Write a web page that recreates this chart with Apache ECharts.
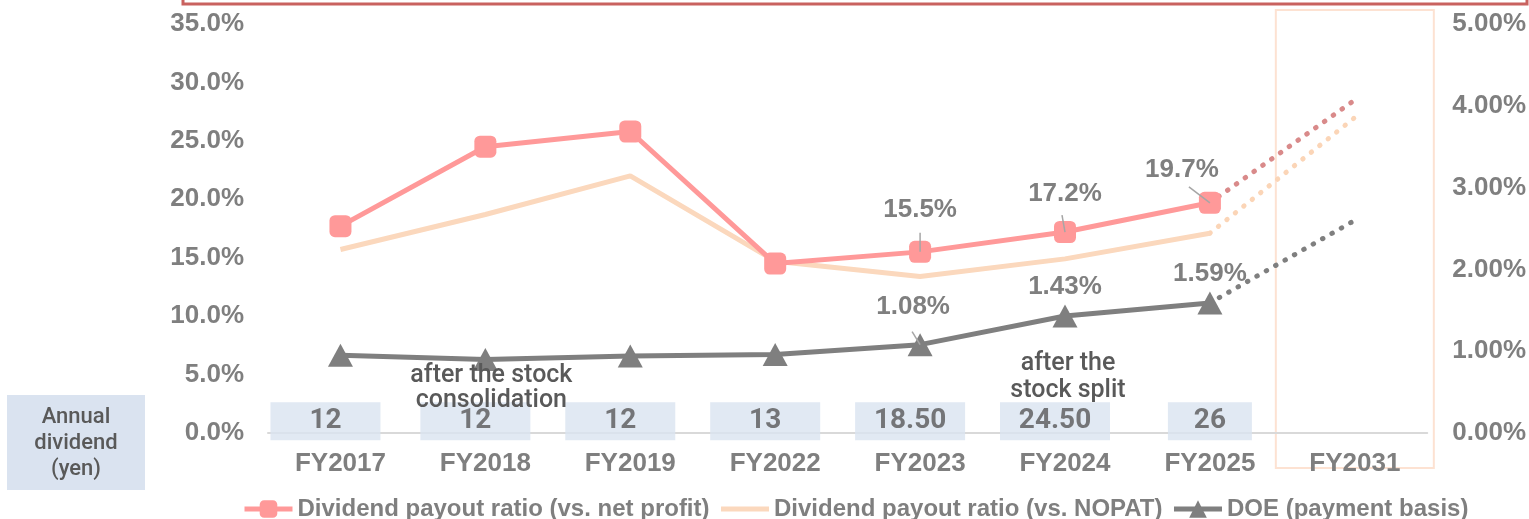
<!DOCTYPE html>
<html>
<head>
<meta charset="utf-8">
<script src="https://cdn.jsdelivr.net/npm/echarts@6.0.0/dist/echarts.min.js"></script>
<style>
    html, body { margin: 0; padding: 0; background: #fff; }
    #chart { width: 1529px; height: 519px; }
</style>
</head>
<body>
<div id="chart"></div>
<script>
var years = ['FY2017', 'FY2018', 'FY2019', 'FY2022', 'FY2023', 'FY2024', 'FY2025', 'FY2031'];
var payoutNetProfit = [17.7, 24.5, 25.8, 14.5, 15.5, 17.2, 19.7, null];
var payoutNopat = [15.7, 18.7, 22.0, 14.7, 13.4, 14.9, 17.1, null];
var doe = [0.95, 0.90, 0.94, 0.96, 1.08, 1.43, 1.59, null];
// FY2025 -> FY2031 targets (dotted)
var targetNetProfit = [19.7, 28.5];
var targetNopat = [17.1, 27.0];
var targetDoe = [1.59, 2.6];
var annualDividend = ['12', '12', '12', '13', '18.50', '24.50', '26'];

var GRAY = '#7f7f7f';
var DARK = '#595959';
var FONT = '"Liberation Sans", Arial, sans-serif';
var NAME_NET = 'Dividend payout ratio (vs. net profit)';
var NAME_NOPAT = 'Dividend payout ratio (vs. NOPAT)';
var NAME_DOE = 'DOE (payment basis)';

function dotted(values) {
    var out = years.map(function () { return null; });
    out[years.length - 2] = values[0];
    out[years.length - 1] = values[1];
    return out;
}

// labels only on FY2023 onwards, offsets keyed by data index
function labelled(values, fmt, shifts) {
    return values.map(function (v, i) {
        return {
            value: v,
            label: {
                show: i >= 4 && v !== null,
                position: 'top',
                distance: 5,
                offset: shifts[i] || [0, 0],
                color: GRAY,
                fontFamily: FONT,
                fontWeight: 'bold',
                fontSize: 26,
                formatter: function (p) { return fmt(p.value); }
            }
        };
    });
}

var chart = echarts.init(document.getElementById('chart'));

var option = {
    animation: false,
    textStyle: { fontFamily: FONT },
    grid: { left: 268, right: 101, top: 24, bottom: 86 },
    legend: {
        data: [
            NAME_NET,
            { name: NAME_NOPAT, itemStyle: { opacity: 0 } },
            NAME_DOE
        ],
        left: 237,
        top: 492,
        itemWidth: 48,
        itemHeight: 22,
        itemGap: 9,
        lineStyle: { width: 5 },
        textStyle: { color: GRAY, fontWeight: 'bold', fontSize: 24, fontFamily: FONT }
    },
    xAxis: {
        type: 'category',
        data: years,
        axisTick: { show: false },
        axisLine: { lineStyle: { color: '#d9d9d9', width: 2 } },
        axisLabel: { color: GRAY, fontWeight: 'bold', fontSize: 26, margin: 18 }
    },
    yAxis: [
        {
            type: 'value', min: 0, max: 35, interval: 5,
            splitLine: { show: false },
            axisLabel: {
                color: GRAY, fontWeight: 'bold', fontSize: 26, margin: 24,
                formatter: function (v) { return v.toFixed(1) + '%'; }
            }
        },
        {
            type: 'value', min: 0, max: 5, interval: 1,
            splitLine: { show: false },
            axisLabel: {
                color: GRAY, fontWeight: 'bold', fontSize: 26, margin: 25,
                formatter: function (v) { return v.toFixed(2) + '%'; }
            }
        }
    ],
    series: [
        {
            name: NAME_NOPAT,
            type: 'line',
            data: payoutNopat,
            symbol: 'none',
            z: 2,
            lineStyle: { width: 5, color: '#fbd8bd' },
            itemStyle: { color: '#fbd8bd' }
        },
        {
            name: NAME_NET,
            type: 'line',
            data: labelled(payoutNetProfit, function (v) { return v.toFixed(1) + '%'; },
                { 4: [0, -13], 5: [0, -9], 6: [-28, -4] }),
            symbol: 'roundRect',
            symbolSize: 22,
            z: 4,
            lineStyle: { width: 5, color: '#ff9999' },
            itemStyle: { color: '#ff9999' }
        },
        {
            name: NAME_DOE,
            type: 'line',
            yAxisIndex: 1,
            data: labelled(doe, function (v) { return v.toFixed(2) + '%'; }, { 4: [-7, -8] }),
            symbol: 'triangle',
            symbolSize: [25, 23],
            z: 4,
            lineStyle: { width: 5, color: GRAY },
            itemStyle: { color: GRAY }
        },
        {
            name: 'target-net', type: 'line', data: dotted(targetNetProfit), symbol: 'none', z: 3,
            lineStyle: { width: 5, color: '#d98a8a', type: [0.5, 10.3], cap: 'round' }
        },
        {
            name: 'target-nopat', type: 'line', data: dotted(targetNopat), symbol: 'none', z: 1,
            lineStyle: { width: 5, color: '#fbd5b7', type: [0.5, 10.3], cap: 'round' }
        },
        {
            name: 'target-doe', type: 'line', yAxisIndex: 1, data: dotted(targetDoe), symbol: 'none', z: 3,
            lineStyle: { width: 5, color: GRAY, type: [0.5, 10.3], cap: 'round' }
        },
        {
            name: 'annual-dividend',
            type: 'scatter',
            symbolSize: 1,
            itemStyle: { color: 'rgba(0,0,0,0)' },
            z: 5,
            data: annualDividend.map(function (d, i) {
                var last = i === annualDividend.length - 1;
                return {
                    value: [years[i], 1.0],
                    label: { width: last ? 84 : 110, offset: [last ? 0 : (i === 0 ? -15 : -10), 0] }
                };
            }),
            label: {
                show: true,
                position: 'inside',
                formatter: function (p) { return annualDividend[p.dataIndex]; },
                width: 110,
                height: 38,
                lineHeight: 38,
                align: 'center',
                verticalAlign: 'middle',
                backgroundColor: '#dae3f0',
                color: DARK,
                fontSize: 28,
                fontFamily: 'Roboto, sans-serif',
                fontWeight: 'bold'
            }
        }
    ]
};
chart.setOption(option);

// decorations placed from the axes
function px(seriesIndex, idx, yAxis) {
    var v = seriesIndex === 1 ? payoutNetProfit[idx] : doe[idx];
    return chart.convertToPixel({ xAxisIndex: 0, yAxisIndex: yAxis }, [years[idx], v]);
}
function leader(p, dx, dy) {
    return {
        type: 'line', z: 10, silent: true,
        shape: { x1: p[0], y1: p[1], x2: p[0] + dx, y2: p[1] + dy },
        style: { stroke: '#a6a6a6', lineWidth: 1.5 }
    };
}
var x2031 = chart.convertToPixel({ xAxisIndex: 0 }, 'FY2031');
var x2018 = chart.convertToPixel({ xAxisIndex: 0 }, 'FY2018');
var x2024 = chart.convertToPixel({ xAxisIndex: 0 }, 'FY2024');
var noteStyle = { fill: DARK, font: '500 25px Roboto, sans-serif', textAlign: 'center', textVerticalAlign: 'middle' };

chart.setOption({
    graphic: [
        {
            type: 'rect', z: 0, silent: true,
            shape: { x: x2031 - 79, y: 10, width: 158, height: 458 },
            style: { fill: 'none', stroke: '#fde2d2', lineWidth: 2 }
        },
        {
            type: 'rect', z: 0, silent: true,
            shape: { x: 183, y: -30, width: 1344, height: 34 },
            style: { fill: 'none', stroke: '#c9625f', lineWidth: 3 }
        },
        {
            type: 'rect', z: 0, silent: true,
            shape: { x: 7, y: 395, width: 138, height: 95 },
            style: { fill: '#dae3f0' }
        },
        {
            type: 'text', z: 10, silent: true, x: 76, y: 443,
            style: {
                text: 'Annual\ndividend\n(yen)', fill: DARK, font: '500 22px Roboto, sans-serif',
                textAlign: 'center', textVerticalAlign: 'middle', lineHeight: 26
            }
        },
        {
            type: 'text', z: 10, silent: true, x: x2018 + 6, y: 388,
            style: Object.assign({ text: 'after the stock\nconsolidation', lineHeight: 25 }, noteStyle)
        },
        {
            type: 'text', z: 10, silent: true, x: x2024 + 3, y: 377,
            style: Object.assign({ text: 'after the\nstock split', lineHeight: 27 }, noteStyle)
        },
        leader(px(1, 4, 0), 0, -19),
        leader(px(1, 5, 0), -3, -17),
        leader(px(1, 6, 0), -21, -16),
        leader(px(2, 4, 1), -8, -13)
    ]
});
</script>
</body>
</html>
